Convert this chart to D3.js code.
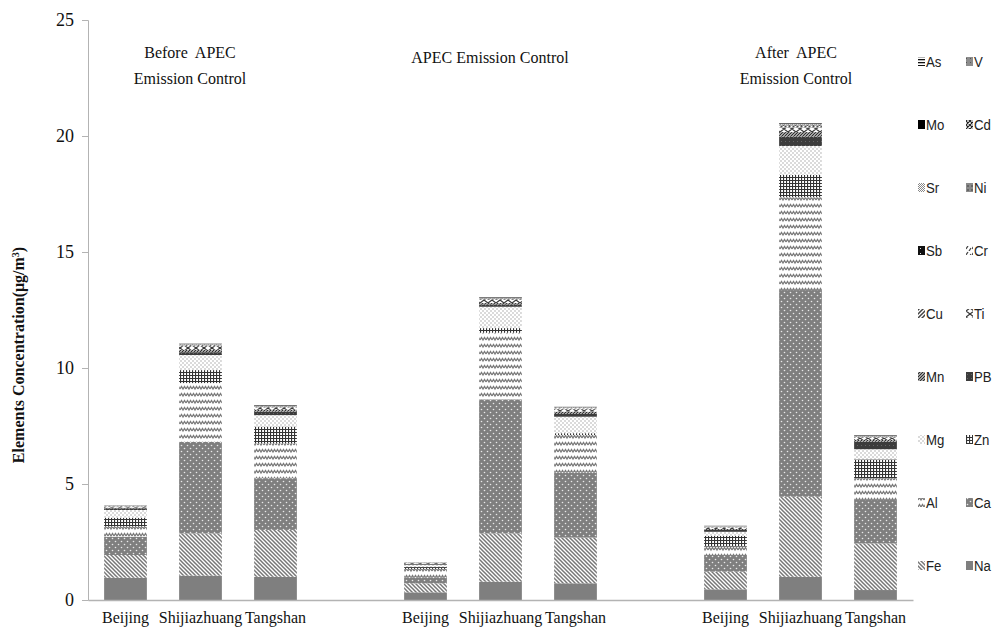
<!DOCTYPE html>
<html>
<head>
<meta charset="utf-8">
<script src="https://cdn.jsdelivr.net/npm/d3@7"></script>
<style>
  body { margin: 0; background: #fff; }
  svg { display: block; }
</style>
</head>
<body>
<div id="chart"></div>
<script>
// slots on the category axis (blank slots separate the three periods)
const slotLabels = ["Beijing", "Shijiazhuang", "Tangshan", "", "Beijing", "Shijiazhuang", "Tangshan", "", "Beijing", "Shijiazhuang", "Tangshan"];
const barSlots = [0, 1, 2, 4, 5, 6, 8, 9, 10];
const periods = ["Before  APEC|Emission Control", "APEC Emission Control", "After  APEC|Emission Control"];
const yTicks = [0, 5, 10, 15, 20, 25];

// stacking order, bottom to top
const elements = ["Na", "Fe", "Ca", "Al", "Zn", "Mg", "PB", "Mn", "Ti", "Cu", "Cr", "Sb", "Ni", "Sr", "Cd", "Mo", "V", "As"];

// values per element, one per bar (ug/m3)
const Na = [0.96, 1.05, 1.00, 0.33, 0.79, 0.72, 0.46, 1.00, 0.43];
const Fe = [0.98, 1.82, 2.02, 0.39, 2.08, 1.97, 0.76, 3.45, 2.01];
const Ca = [0.79, 3.95, 2.23, 0.26, 5.78, 2.80, 0.72, 8.91, 1.87];
const Al = [0.43, 2.53, 1.50, 0.36, 2.87, 1.62, 0.36, 4.00, 0.94];
const Zn = [0.39, 0.56, 0.72, 0.08, 0.20, 0.08, 0.47, 0.96, 0.81];
const Mg = [0.33, 0.65, 0.50, 0.10, 0.92, 0.71, 0.17, 1.25, 0.44];
const PB = [0.07, 0.12, 0.15, 0.03, 0.10, 0.12, 0.08, 0.40, 0.32];
const Mn = [0.03, 0.10, 0.08, 0.01, 0.06, 0.10, 0.04, 0.20, 0.08];
const Ti = [0.04, 0.16, 0.10, 0.03, 0.14, 0.10, 0.06, 0.20, 0.10];
const Cu = [0.02, 0.04, 0.03, 0.01, 0.03, 0.04, 0.02, 0.06, 0.03];
const Cr = [0.01, 0.02, 0.01, 0.005, 0.01, 0.02, 0.01, 0.03, 0.01];
const Sb = [0.005, 0.01, 0.01, 0.003, 0.01, 0.01, 0.005, 0.02, 0.01];
const Ni = [0.005, 0.01, 0.005, 0.002, 0.01, 0.005, 0.005, 0.01, 0.005];
const Sr = [0.005, 0.01, 0.01, 0.003, 0.01, 0.01, 0.005, 0.02, 0.01];
const Cd = [0.002, 0.005, 0.005, 0.001, 0.005, 0.005, 0.003, 0.01, 0.005];
const Mo = [0.003, 0.005, 0.005, 0.002, 0.005, 0.005, 0.004, 0.01, 0.005];
const V  = [0.005, 0.01, 0.005, 0.002, 0.01, 0.005, 0.005, 0.01, 0.005];
const As = [0.015, 0.025, 0.02, 0.01, 0.02, 0.02, 0.02, 0.03, 0.02];

const valuesByElement = {Na, Fe, Ca, Al, Zn, Mg, PB, Mn, Ti, Cu, Cr, Sb, Ni, Sr, Cd, Mo, V, As};

// build a table the stack generator can use
const table = barSlots.map((slot, i) => {
  const row = {slot: slot};
  elements.forEach(e => row[e] = valuesByElement[e][i]);
  return row;
});

const serif = "'Liberation Serif', 'Times New Roman', 'DejaVu Serif', serif";

const W = 1000, H = 638;
const svg = d3.select("#chart").append("svg")
  .attr("width", W).attr("height", H);

// --- fill patterns (black & white Excel style) ---
const defs = svg.append("defs");
function pat(id, w, h, bg, draw) {
  const p = defs.append("pattern").attr("id", "p-" + id)
    .attr("patternUnits", "userSpaceOnUse").attr("width", w).attr("height", h);
  p.append("rect").attr("width", w).attr("height", h).attr("fill", bg);
  if (draw) draw(p);
}
pat("Na", 4, 4, "#7f7f7f");
pat("Fe", 4, 4, "#ffffff", p => {
  p.append("path").attr("d", "M-1,-1 L5,5 M-1,3 L1,5 M3,-1 L5,1").attr("stroke", "#777").attr("stroke-width", 1.5);
});
pat("Ca", 6, 6, "#7f7f7f", p => {
  p.append("circle").attr("cx", 1.5).attr("cy", 1.5).attr("r", 0.8).attr("fill", "#e8e8e8");
  p.append("circle").attr("cx", 4.5).attr("cy", 4.5).attr("r", 0.8).attr("fill", "#e8e8e8");
});
pat("Al", 6, 7, "#ffffff", p => {
  p.append("path").attr("d", "M0,4 L1.5,1.5 L3,4 L4.5,1.5 L6,4").attr("fill", "none").attr("stroke", "#7a7a7a").attr("stroke-width", 1.3);
});
pat("Zn", 3, 3, "#ffffff", p => {
  p.append("path").attr("d", "M0,0.5 H3 M0.5,0 V3").attr("stroke", "#333").attr("stroke-width", 1.2);
});
pat("Mg", 4, 4, "#ffffff", p => {
  p.append("circle").attr("cx", 1).attr("cy", 1).attr("r", 0.7).attr("fill", "#9a9a9a");
  p.append("circle").attr("cx", 3).attr("cy", 3).attr("r", 0.7).attr("fill", "#9a9a9a");
});
pat("PB", 4, 4, "#3c3c3c", p => {
  p.append("rect").attr("x", 1).attr("y", 1).attr("width", 1).attr("height", 1).attr("fill", "#666");
});
pat("Mn", 3, 3, "#ffffff", p => {
  p.append("path").attr("d", "M-1,4 L4,-1 M-1,1 L1,-1 M2,4 L4,2").attr("stroke", "#2e2e2e").attr("stroke-width", 1.3);
});
pat("Ti", 8, 6, "#ffffff", p => {
  p.append("path").attr("d", "M0,3 L4,0 L8,3 L4,6 Z").attr("fill", "none").attr("stroke", "#3a3a3a").attr("stroke-width", 1.2);
});
pat("Cu", 4, 4, "#ffffff", p => {
  p.append("path").attr("d", "M-1,5 L5,-1 M-1,1 L1,-1 M3,5 L5,3").attr("stroke", "#444").attr("stroke-width", 1.5);
});
pat("Cr", 6, 6, "#ffffff", p => {
  p.append("path").attr("d", "M0,4 L2,1 M3,6 L5,3").attr("stroke", "#444").attr("stroke-width", 1.3);
});
pat("Sb", 5, 5, "#111", p => {
  p.append("rect").attr("x", 2).attr("y", 2).attr("width", 1).attr("height", 1).attr("fill", "#ddd");
});
pat("Ni", 4, 4, "#8a8a8a", p => {
  p.append("rect").attr("x", 1).attr("y", 1).attr("width", 2).attr("height", 2).attr("fill", "#666");
});
pat("Sr", 2, 2, "#ffffff", p => {
  p.append("rect").attr("width", 1).attr("height", 1).attr("fill", "#888");
  p.append("rect").attr("x", 1).attr("y", 1).attr("width", 1).attr("height", 1).attr("fill", "#888");
});
pat("Cd", 4, 4, "#ffffff", p => {
  p.append("path").attr("d", "M0,0 L4,4 M4,0 L0,4").attr("stroke", "#222").attr("stroke-width", 1.2);
});
pat("Mo", 4, 4, "#000");
pat("V", 4, 4, "#8c8c8c", p => {
  p.append("rect").attr("x", 0).attr("y", 0).attr("width", 1).attr("height", 1).attr("fill", "#555");
});
pat("As", 4, 3, "#ffffff", p => {
  p.append("rect").attr("y", 0).attr("width", 4).attr("height", 1.3).attr("fill", "#111");
});

// --- scales ---
const x = d3.scaleBand()
  .domain(d3.range(slotLabels.length))
  .range([88, 913])
  .paddingInner(0.43)
  .paddingOuter(0.215);

const y = d3.scaleLinear().domain([0, 25]).range([600, 20]);

// --- axes ---
const yAxis = svg.append("g")
  .attr("transform", "translate(88,0)")
  .call(d3.axisLeft(y).tickValues(yTicks).tickSize(6).tickPadding(8));
yAxis.attr("font-family", serif);
yAxis.select(".domain").attr("stroke", "#b3b3b3");
yAxis.selectAll(".tick line").attr("stroke", "#b3b3b3");
yAxis.selectAll(".tick text")
  .attr("font-family", serif)
  .attr("font-size", 18).attr("fill", "#111");

svg.append("text")
  .attr("transform", "translate(24,355) rotate(-90)")
  .attr("text-anchor", "middle")
  .attr("font-family", serif)
  .attr("font-weight", "bold").attr("font-size", 16).attr("fill", "#111")
  .html("Elements Concentration(μg/m<tspan baseline-shift='super' font-size='10'>3</tspan>)");

// --- stacked bars ---
const series = d3.stack().keys(elements)(table);

svg.append("g").selectAll("g")
  .data(series)
  .join("g")
    .attr("fill", d => `url(#p-${d.key})`)
  .selectAll("rect")
  .data(d => d)
  .join("rect")
    .attr("x", d => x(d.data.slot))
    .attr("width", x.bandwidth())
    .attr("y", d => y(d[1]))
    .attr("height", d => Math.max(0, y(d[0]) - y(d[1])));

// category axis
const xAxis = svg.append("g")
  .attr("transform", "translate(0,600)")
  .call(d3.axisBottom(x).tickSize(0).tickPadding(12).tickFormat(i => slotLabels[i]));
xAxis.attr("font-family", serif);
xAxis.select(".domain").attr("stroke", "#b3b3b3").attr("stroke-width", 1.5);
xAxis.selectAll(".tick text")
  .attr("font-family", serif)
  .attr("font-size", 16).attr("fill", "#111");

// period titles above each group
const titleX = [190, 490, 796];
const titleY = [[52, 78], [57], [52, 78]];
periods.forEach((t, i) => {
  t.split("|").forEach((ln, j) => {
    svg.append("text")
      .attr("x", titleX[i]).attr("y", titleY[i][j] + 6)
      .attr("text-anchor", "middle")
      .attr("font-family", serif)
      .attr("font-size", 16).attr("fill", "#111")
      .style("white-space", "pre")
      .text(ln);
  });
});

// --- legend: reversed series order, two columns ---
const legendItems = elements.slice().reverse();
const legend = svg.append("g").selectAll("g")
  .data(legendItems)
  .join("g")
    .attr("transform", (d, k) => `translate(${k % 2 ? 966 : 918},${62 + Math.floor(k / 2) * 63})`);
legend.append("rect")
  .attr("x", 0).attr("y", -5).attr("width", 7).attr("height", 9)
  .attr("fill", d => `url(#p-${d})`);
legend.append("text")
  .attr("x", 9).attr("y", 5)
  .attr("transform", "scale(0.88,1)")
  .attr("font-family", "'Liberation Sans Narrow', 'Liberation Sans', sans-serif")
  .attr("font-size", 15).attr("fill", "#222")
  .text(d => d);
</script>
</body>
</html>
